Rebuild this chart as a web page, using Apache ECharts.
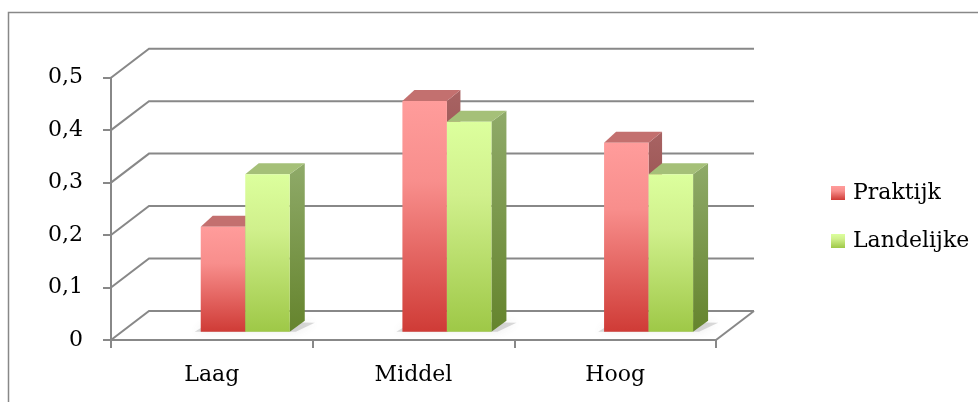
<!DOCTYPE html>
<html><head><meta charset="utf-8">
<script src="https://cdn.jsdelivr.net/npm/echarts@6/dist/echarts.min.js"></script>
<style>html,body{margin:0;padding:0;background:#fff}#c{width:978px;height:402px}</style>
</head><body><div id="c"></div>
<script>
const categories = ['Laag', 'Middel', 'Hoog'];
const praktijk = [0.2, 0.44, 0.36];
const landelijke = [0.3, 0.4, 0.3];
const yTicks = [0, 0.1, 0.2, 0.3, 0.4, 0.5];
const yTickLabels = ['0', '0,1', '0,2', '0,3', '0,4', '0,5'];
const seriesNames = ['Praktijk', 'Landelijke'];

const FONT = 'DejaVu Serif';
const GRID = '#888888';
const WALL = { dx: 38, dy: -29 };
const BAR = { frontDy: -8.3, wRatio: 0.2207, shiftRatio: -0.055, depthDy: -11, dxL: 12, dxM: 13.5, dxR: 15 };

function lg(stops) {
  return new echarts.graphic.LinearGradient(0, 0, 0, 1, stops.map(s => ({ offset: s[0], color: s[1] })));
}
const STYLE = [
  { front: [[0, '#ff9c9b'], [0.35, '#f88e8c'], [1, '#cf3b36']], top: '#c3706f', side: [[0, '#a86363'], [1, '#7d3430']] },
  { front: [[0, '#dcff9d'], [0.35, '#d0f08c'], [1, '#9ec847']], top: '#a5c078', side: [[0, '#8faa69'], [1, '#65842d']] }
];

function barRender(s) {
  return function (params, api) {
    const idx = api.value(0), v = api.value(1);
    const base = api.coord([idx, 0]);
    const topP = api.coord([idx, v]);
    const band = api.size([1, 0])[0];
    const w = band * BAR.wRatio;
    const pairLeft = base[0] + band * BAR.shiftRatio;
    const x0 = pairLeft + s * w, x1 = x0 + w;
    const yb = base[1] + BAR.frontDy, yt = topP[1] + BAR.frontDy;
    const dL = s === 0 ? BAR.dxL : BAR.dxM, dR = s === 0 ? BAR.dxM : BAR.dxR;
    const dy = BAR.depthDy;
    const st = STYLE[s];
    return {
      type: 'group', children: [
        { type: 'polygon', shape: { points: [[x1, yt], [x1 + dR, yt + dy], [x1 + dR, yb + dy], [x1, yb]] }, style: { fill: lg(st.side) } },
        { type: 'polygon', shape: { points: [[x0, yt], [x1, yt], [x1 + dR, yt + dy], [x0 + dL, yt + dy]] }, style: { fill: st.top } },
        { type: 'rect', shape: { x: x0, y: yt, width: w, height: yb - yt }, style: { fill: lg(st.front) } }
      ]
    };
  };
}

function wallRender(params, api) {
  const cs = params.coordSys;
  const v = api.value(1);
  const y = api.coord([0, v])[1];
  const xl = cs.x, xr = cs.x + cs.width;
  const children = [{ type: 'polyline', shape: { points: [[xl, y], [xl + WALL.dx, y + WALL.dy], [xr + WALL.dx, y + WALL.dy]] }, style: { stroke: GRID, lineWidth: 2, fill: null } }];
  if (v === 0) children.push({ type: 'line', shape: { x1: xr, y1: y, x2: xr + WALL.dx, y2: y + WALL.dy }, style: { stroke: GRID, lineWidth: 2 } });
  return { type: 'group', children: children };
}

function shadowRender(params, api) {
  const idx = api.value(0);
  const base = api.coord([idx, 0]);
  const band = api.size([1, 0])[0];
  const w = band * BAR.wRatio;
  const x0 = base[0] + band * BAR.shiftRatio, x1 = x0 + 2 * w;
  const yb = base[1] + BAR.frontDy;
  return {
    type: 'polygon',
    shape: { points: [[x0 - 6, yb], [x1 + 6, yb], [x1 + BAR.dxR + 10, yb + BAR.depthDy + 2], [x0 + BAR.dxL, yb + BAR.depthDy]] },
    style: { fill: 'rgba(90,90,90,0.22)', shadowBlur: 8, shadowColor: 'rgba(90,90,90,0.5)' }
  };
}

const chart = echarts.init(document.getElementById('c'), null, { renderer: 'canvas' });
chart.setOption({
  animation: false,
  backgroundColor: '#fff',
  graphic: [{ type: 'rect', shape: { x: 8.5, y: 12.5, width: 1000, height: 500 }, style: { fill: null, stroke: GRID, lineWidth: 1.5 }, z: -10 }],
  grid: { left: 111, right: 262, top: 77.7, bottom: 62, containLabel: false, outerBoundsMode: 'none' },
  legend: {
    orient: 'vertical', left: 826, top: 175, icon: 'rect', itemWidth: 14, itemHeight: 14, itemGap: 22,
    textStyle: { fontFamily: FONT, fontSize: 22, color: '#000', lineHeight: 26, padding: [0, 0, 0, 3] },
    data: seriesNames.map((n, i) => ({ name: n, itemStyle: { color: lg(STYLE[i].front) } }))
  },
  xAxis: {
    type: 'category', data: categories,
    axisLine: { lineStyle: { color: GRID, width: 2 } },
    axisTick: { show: true, length: 8, lineStyle: { color: GRID, width: 2 } },
    axisLabel: { fontFamily: FONT, fontSize: 22, color: '#000', margin: 24 },
    splitLine: { show: false }
  },
  yAxis: {
    type: 'value', min: 0, max: 0.5, interval: 0.1,
    axisLine: { show: true, lineStyle: { color: GRID, width: 2 } },
    axisTick: { show: true, length: 8, lineStyle: { color: GRID, width: 2 } },
    axisLabel: { fontFamily: FONT, fontSize: 22, color: '#000', margin: 28, formatter: (v, i) => yTickLabels[i] },
    splitLine: { show: false }
  },
  series: [
    { type: 'custom', name: 'wall', silent: true, renderItem: wallRender, data: yTicks.map(v => [0, v]), z: 1 },
    { type: 'custom', name: 'shadow', silent: true, renderItem: shadowRender, data: categories.map((c, i) => [i, 0]), z: 2 },
    { type: 'custom', name: seriesNames[0], renderItem: barRender(0), itemStyle: { color: lg(STYLE[0].front) }, data: praktijk.map((v, i) => [i, v]), z: 3 },
    { type: 'custom', name: seriesNames[1], renderItem: barRender(1), itemStyle: { color: lg(STYLE[1].front) }, data: landelijke.map((v, i) => [i, v]), z: 4 }
  ]
});
</script>
</body></html>
